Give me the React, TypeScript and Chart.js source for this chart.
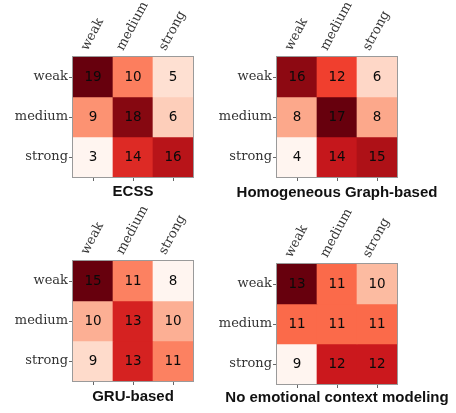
import React, { useEffect, useRef } from 'react';
import { Chart, registerables } from 'chart.js';

Chart.register(...registerables);

// ---- data ----
const levels = ['weak', 'medium', 'strong'];
const ecssCounts = [
  [19, 10, 5],
  [9, 18, 6],
  [3, 14, 16],
];
const homogeneousCounts = [
  [16, 12, 6],
  [8, 17, 8],
  [4, 14, 15],
];
const gruCounts = [
  [15, 11, 8],
  [10, 13, 10],
  [9, 13, 11],
];
const noContextCounts = [
  [13, 11, 10],
  [11, 11, 11],
  [9, 12, 12],
];
const panelTitles = ['ECSS', 'Homogeneous Graph-based', 'GRU-based', 'No emotional context modeling'];
const panelCounts = [ecssCounts, homogeneousCounts, gruCounts, noContextCounts];

// ---- layout (positions only) ----
const W = 456;
const H = 413;
const BOX = 120;
const YAXIS_W = 70;
const XAXIS_H = 4;
const panelBoxes = [
  { bx: 73, by: 57, ty: 192 },
  { bx: 277, by: 57, ty: 193 },
  { bx: 73, by: 261, ty: 397 },
  { bx: 277, by: 264, ty: 398 },
];

// matplotlib "Reds" colormap
const REDS = ['#fff5f0', '#fee0d2', '#fcbba1', '#fc9272', '#fb6a4a', '#ef3b2c', '#cb181d', '#a50f15', '#67000d'];
function hexToRgb(h: string) {
  return [parseInt(h.slice(1, 3), 16), parseInt(h.slice(3, 5), 16), parseInt(h.slice(5, 7), 16)];
}
function reds(t: number) {
  const tt = Math.max(0, Math.min(1, t));
  const p = tt * 8;
  const i = Math.min(7, Math.floor(p));
  const f = p - i;
  const a = hexToRgb(REDS[i]);
  const b = hexToRgb(REDS[i + 1]);
  const c = a.map((v, k) => Math.round(v + (b[k] - v) * f));
  return `rgb(${c[0]},${c[1]},${c[2]})`;
}

const LABEL_ANGLE = (62 * Math.PI) / 180;

function makeConfig(counts: number[][], title: string, box: { bx: number; by: number; ty: number }) {
  const flat = counts.flat();
  const mn = Math.min(...flat);
  const mx = Math.max(...flat);

  const overlay = {
    id: 'heatOverlay',
    afterDraw(chart: any) {
      const ctx = chart.ctx;
      const xs = chart.scales.x;
      const ys = chart.scales.y;
      const area = chart.chartArea;
      ctx.save();
      // frame
      ctx.strokeStyle = '#9a9a9a';
      ctx.lineWidth = 1;
      ctx.strokeRect(area.left - 0.5, area.top - 0.5, area.right - area.left + 1, area.bottom - area.top + 1);
      // cell values
      ctx.fillStyle = '#0a0a0a';
      ctx.font = '13.5px "DejaVu Sans"';
      ctx.textAlign = 'center';
      ctx.textBaseline = 'middle';
      counts.forEach((row, r) => {
        row.forEach((v, c) => {
          ctx.fillText(String(v), xs.getPixelForValue(c), ys.getPixelForValue(r + 0.5) + 0.5);
        });
      });
      // top rotated column labels
      ctx.font = '13px "DejaVu Serif"';
      ctx.fillStyle = '#333';
      levels.forEach((lab, c) => {
        const m = ctx.measureText(lab);
        const w = m.width;
        const h = 10;
        const bboxH = w * Math.sin(LABEL_ANGLE) + h * Math.cos(LABEL_ANGLE);
        const cx = xs.getPixelForValue(c) - 0.5;
        const cy = area.top - 5 - bboxH / 2;
        ctx.save();
        ctx.translate(cx, cy);
        ctx.rotate(-LABEL_ANGLE);
        ctx.textAlign = 'center';
        ctx.textBaseline = 'middle';
        ctx.fillText(lab, 0, 0);
        ctx.restore();
      });
      // title
      ctx.font = 'bold 15px "Liberation Sans"';
      ctx.fillStyle = '#111';
      ctx.textAlign = 'center';
      ctx.textBaseline = 'middle';
      ctx.fillText(title, (area.left + area.right) / 2, box.ty);
      ctx.restore();
    },
  };

  return {
    type: 'bar' as const,
    data: {
      labels: levels,
      datasets: counts.map((row, r) => ({
        label: levels[r],
        data: row.map(() => [r, r + 1]),
        backgroundColor: row.map((v) => reds((v - mn) / (mx - mn))),
        borderWidth: 0,
        barPercentage: 1,
        categoryPercentage: 1,
        grouped: false,
      })),
    },
    options: {
      responsive: false,
      maintainAspectRatio: false,
      animation: false as const,
      events: [],
      layout: {
        padding: {
          left: box.bx - YAXIS_W,
          top: box.by,
          right: W - box.bx - BOX,
          bottom: H - box.by - BOX - XAXIS_H,
        },
      },
      plugins: {
        legend: { display: false },
        tooltip: { enabled: false },
        title: { display: false },
      },
      scales: {
        x: {
          type: 'category' as const,
          position: 'bottom' as const,
          offset: true,
          grid: { offset: false, drawOnChartArea: false, drawTicks: true, tickLength: 4, color: '#666' },
          border: { display: false },
          ticks: { display: false },
          afterFit: (s: any) => {
            s.height = XAXIS_H;
          },
        },
        y: {
          type: 'linear' as const,
          min: 0,
          max: 3,
          reverse: true,
          afterBuildTicks: (s: any) => {
            s.ticks = levels.map((_, i) => ({ value: i + 0.5 }));
          },
          grid: { drawOnChartArea: false, drawTicks: true, tickLength: 4, color: '#666' },
          border: { display: false },
          ticks: {
            autoSkip: false,
            padding: 1,
            color: '#333',
            font: { family: 'DejaVu Serif', size: 13 },
            callback: (_v: any, i: number) => levels[i],
          },
          afterFit: (s: any) => {
            s.width = YAXIS_W;
          },
        },
      },
    },
    plugins: [overlay],
  };
}

function Panel({ idx }: { idx: number }) {
  const ref = useRef<HTMLCanvasElement | null>(null);
  useEffect(() => {
    if (!ref.current) return;
    const chart = new Chart(ref.current, makeConfig(panelCounts[idx], panelTitles[idx], panelBoxes[idx]) as any);
    return () => chart.destroy();
  }, [idx]);
  return (
    <canvas
      ref={ref}
      width={W}
      height={H}
      style={{ position: 'absolute', left: 0, top: 0, width: W, height: H, display: 'block' }}
    />
  );
}

export default function App() {
  return (
    <div style={{ position: 'absolute', left: 0, top: 0, width: W, height: H, background: '#fff', overflow: 'hidden' }}>
      {panelTitles.map((_, i) => (
        <Panel key={i} idx={i} />
      ))}
    </div>
  );
}
